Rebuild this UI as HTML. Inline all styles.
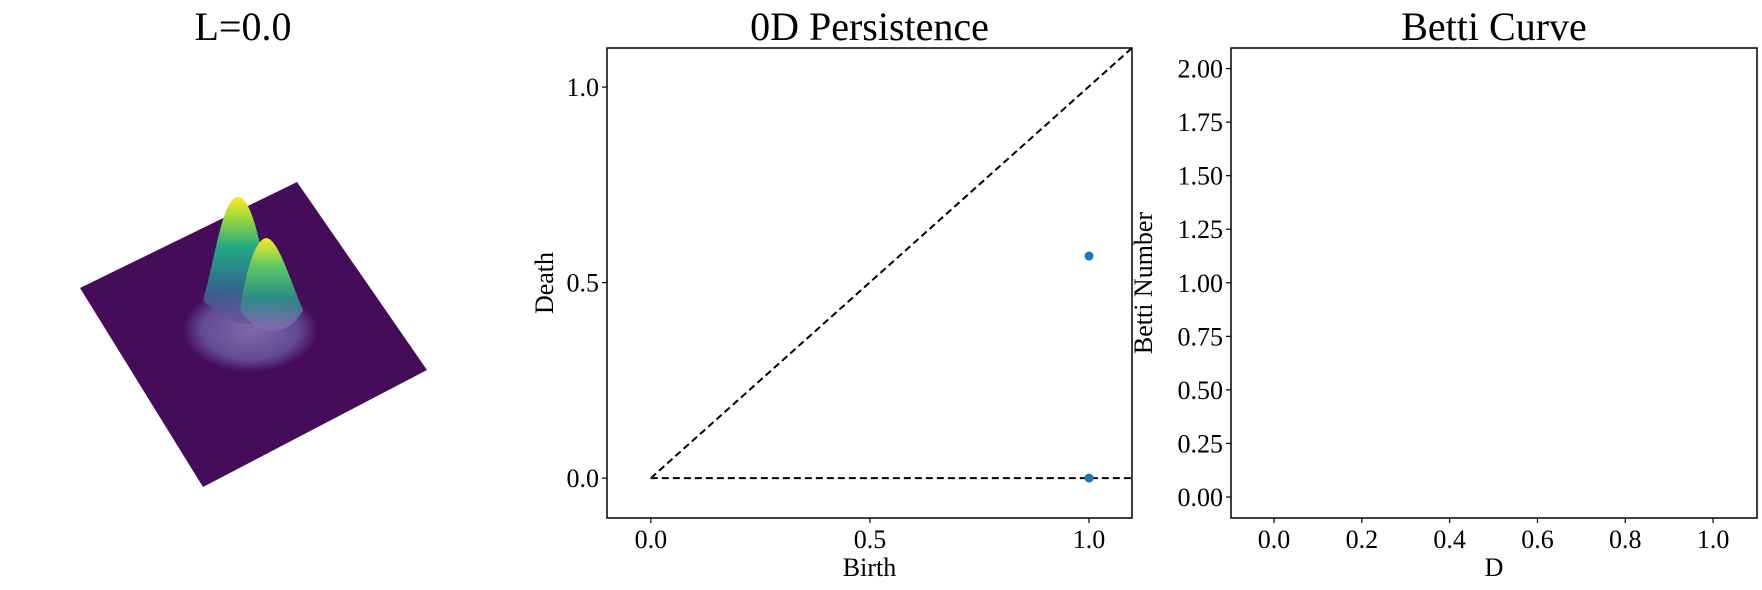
<!DOCTYPE html>
<html><head><meta charset="utf-8">
<style>
html,body{margin:0;padding:0;background:#fff;}
svg{display:block;font-family:"Liberation Serif","DejaVu Serif",serif;}
</style></head>
<body>
<svg id="fig" width="1762" height="590" viewBox="0 0 1762 590" xmlns="http://www.w3.org/2000/svg">
<defs>
<linearGradient id="pk1" x1="0" y1="1" x2="0" y2="0">
<stop offset="0" stop-color="#6a4a9a" stop-opacity="0.6"/>
<stop offset="0.3" stop-color="#2f6c8e"/>
<stop offset="0.6" stop-color="#22a884"/>
<stop offset="0.85" stop-color="#a5db36"/>
<stop offset="1" stop-color="#fde725"/>
</linearGradient>
<linearGradient id="pk2" x1="0" y1="1" x2="0" y2="0">
<stop offset="0" stop-color="#8a6fb0" stop-opacity="0.7"/>
<stop offset="0.35" stop-color="#2a8b8a"/>
<stop offset="0.7" stop-color="#5ec962"/>
<stop offset="1" stop-color="#fde725"/>
</linearGradient>
<radialGradient id="base" cx="0.5" cy="0.5" r="0.5">
<stop offset="0" stop-color="#7e6aa8"/>
<stop offset="0.7" stop-color="#634b92"/>
<stop offset="1" stop-color="#450c5a"/>
</radialGradient>
</defs>

<g>
<text x="243" y="40" font-size="40" text-anchor="middle">L=0.0</text>
<polygon points="80,288 297,182 427,370 203,487" fill="#450c5a"/>
<ellipse cx="250" cy="330" rx="68" ry="42" fill="url(#base)"/>
<path d="M203,300 C215,260 222,200 237,197 C250,196 256,230 262,250 L268,320 C250,330 220,320 203,300 Z" fill="url(#pk1)"/>
<path d="M240,310 C246,270 255,240 266,238 C278,238 290,280 303,310 C290,335 260,340 240,310 Z" fill="url(#pk2)"/>
</g>

<g id="pers"></g>
<g id="betti"></g>
</svg>
<script>
const birthVals = [1.0, 1.0];
const deathVals = [0.0, 0.568];
const persTicks = [0.0, 0.5, 1.0];
const persTickLabels = ["0.0", "0.5", "1.0"];
const bettiXTicks = [0, 0.2, 0.4, 0.6, 0.8, 1.0];
const bettiXTickLabels = ["0.0","0.2","0.4","0.6","0.8","1.0"];
const bettiYTicks = [0, 0.25, 0.5, 0.75, 1.0, 1.25, 1.5, 1.75, 2.0];
const bettiYTickLabels = ["0.00","0.25","0.50","0.75","1.00","1.25","1.50","1.75","2.00"];
const bettiD = [];
const bettiN = [];

const NS = "http://www.w3.org/2000/svg";
function mk(parent, tag, attrs, text) {
  const e = document.createElementNS(NS, tag);
  for (const k in attrs) e.setAttribute(k, attrs[k]);
  if (text !== undefined) e.textContent = text;
  parent.appendChild(e);
  return e;
}
function axes(g, L, R, T, B, x0, x1, y0, y1, xt, xtl, yt, ytl, title, xl, yl, ylx) {
  const sx = v => L + (v - x0) / (x1 - x0) * (R - L);
  const sy = v => B - (v - y0) / (y1 - y0) * (B - T);
  const t = mk(g, "text", {x: (L + R) / 2, y: 40, "font-size": 40, "text-anchor": "middle"}, title);
  
  
  xt.forEach((v, i) => {
    const ln = mk(g, "line", {x1: sx(v), x2: sx(v), y1: B, y2: B + 5, stroke: "#000", "stroke-width": 1.2});
    
    
    const tx = mk(g, "text", {x: sx(v), y: B + 30, "font-size": 26, "text-anchor": "middle"}, xtl[i]);
    
    
  });
  yt.forEach((v, i) => {
    const ln = mk(g, "line", {x1: L - 5, x2: L, y1: sy(v), y2: sy(v), stroke: "#000", "stroke-width": 1.2});
    
    
    const tx = mk(g, "text", {x: L - 8, y: sy(v) + 9, "font-size": 26, "text-anchor": "end"}, ytl[i]);
    
    
  });
  const xa = mk(g, "text", {x: (L + R) / 2, y: 576, "font-size": 26, "text-anchor": "middle"}, xl);
  
  
  const cy = (T + B) / 2;
  const ya = mk(g, "text", {x: ylx, y: cy, "font-size": 26, "text-anchor": "middle", transform: `rotate(-90 ${ylx} ${cy})`}, yl);
  
  
  return {sx, sy};
}

const pg = document.getElementById("pers");
const PL = 607, PR = 1132, PT = 48, PB = 518, PX0 = -0.1, PX1 = 1.098, PY0 = -0.102, PY1 = 1.1;
const P = axes(pg, PL, PR, PT, PB, PX0, PX1, PY0, PY1, persTicks, persTickLabels, persTicks, persTickLabels, "0D Persistence", "Birth", "Death", 553);
const diag = mk(pg, "line", {x1: P.sx(0), y1: P.sy(0), x2: P.sx(PX1), y2: P.sy(PY1), stroke: "#000", "stroke-width": 2, "stroke-dasharray": "7,4"});


const hz = mk(pg, "line", {x1: P.sx(0), y1: P.sy(0), x2: PR, y2: P.sy(0), stroke: "#000", "stroke-width": 2, "stroke-dasharray": "7,4"});


birthVals.forEach((b, i) => {
  const c = mk(pg, "circle", {cx: P.sx(b), cy: P.sy(deathVals[i]), r: 4.5, fill: "#1f77b4"});
  
  
});
const pf = mk(pg, "rect", {x: PL, y: PT, width: PR - PL, height: PB - PT, fill: "none", stroke: "#000", "stroke-width": 1.5});



const bg = document.getElementById("betti");
const BL = 1231, BR = 1757, BT = 48, BB = 518;
const B = axes(bg, BL, BR, BT, BB, -0.098, 1.1, -0.098, 2.096, bettiXTicks, bettiXTickLabels, bettiYTicks, bettiYTickLabels, "Betti Curve", "D", "Betti Number", 1152);
if (bettiD.length) {
  const pl = mk(bg, "polyline", {points: bettiD.map((d, i) => B.sx(d) + "," + B.sy(bettiN[i])).join(" "), fill: "none", stroke: "#1f77b4", "stroke-width": 2});
  
  
}
const bf = mk(bg, "rect", {x: BL, y: BT, width: BR - BL, height: BB - BT, fill: "none", stroke: "#000", "stroke-width": 1.5});


</script>
</body></html>
